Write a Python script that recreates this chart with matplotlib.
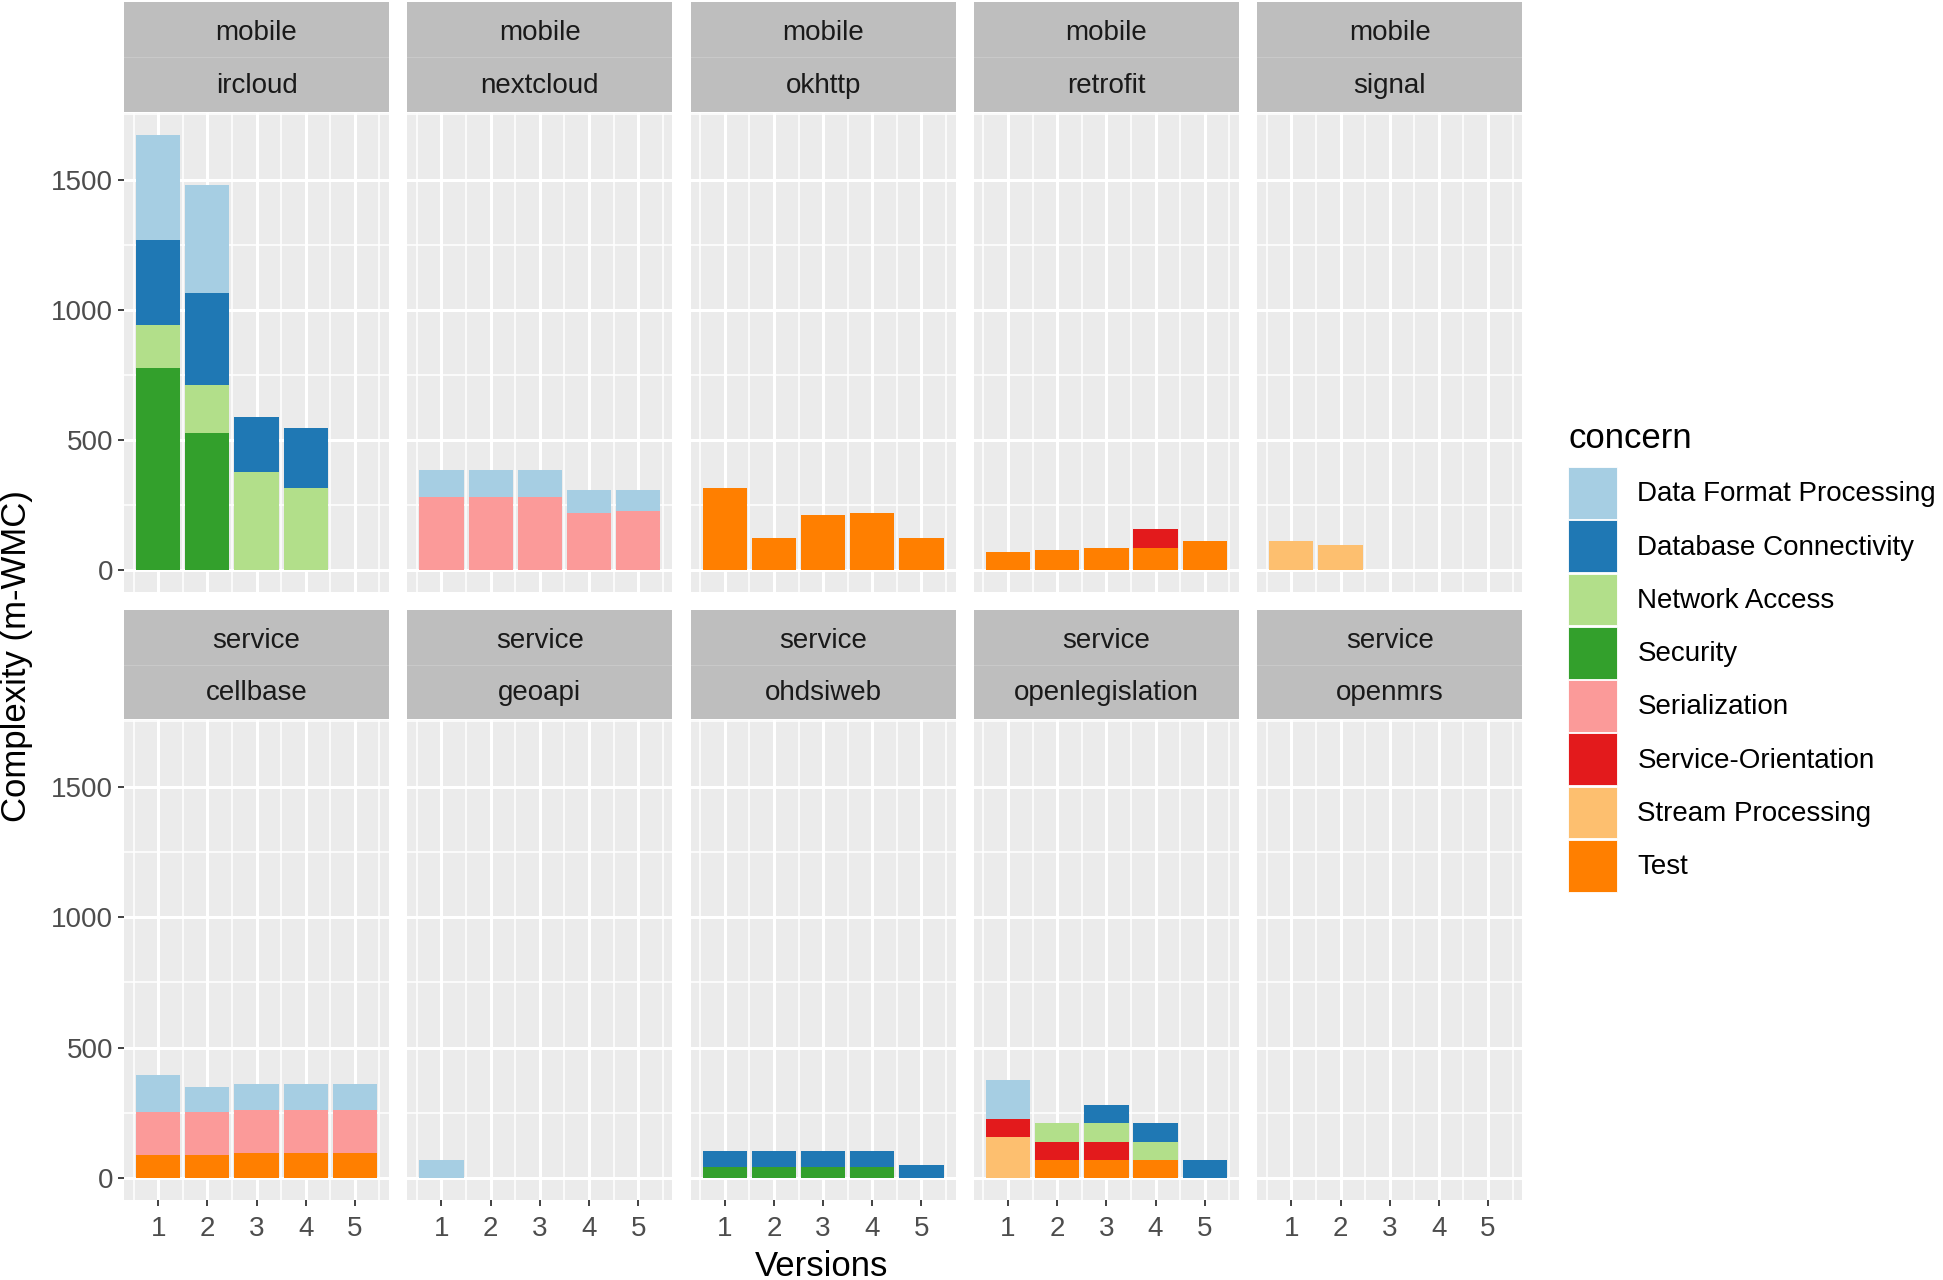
import matplotlib
matplotlib.use("Agg")
import matplotlib.pyplot as plt
from matplotlib.patches import Patch

plt.rcParams['font.family'] = ['Liberation Sans', 'DejaVu Sans']

# Dane
domains = ["mobile"] * 5 + ["service"] * 5
projects = ["ircloud", "nextcloud", "okhttp", "retrofit", "signal",
            "cellbase", "geoapi", "ohdsiweb", "openlegislation", "openmrs"]
versions = [1, 2, 3, 4, 5]

concerns = ["Data Format Processing", "Database Connectivity", "Network Access",
            "Security", "Serialization", "Service-Orientation",
            "Stream Processing", "Test"]
colors = ["#A6CEE3", "#1F78B4", "#B2DF8A", "#33A02C",
          "#FB9A99", "#E31A1C", "#FDBF6F", "#FF7F00"]

Z = [0, 0, 0, 0, 0]
# one row per project, one value per version
data_format = [[405, 413, 0, 0, 0], [104, 104, 104, 89, 80], Z, Z, Z,
               [140, 97, 97, 97, 97], [69, 0, 0, 0, 0], Z, [150, 0, 0, 0, 0], Z]
database = [[326, 354, 211, 229, 0], Z, Z, Z, Z,
            Z, Z, [63, 63, 63, 63, 52], [0, 0, 71, 71, 69], Z]
network = [[166, 183, 378, 316, 0], Z, Z, Z, Z,
           Z, Z, Z, [0, 71, 71, 70, 0], Z]
security = [[775, 528, 0, 0, 0], Z, Z, Z, Z,
            Z, Z, [42, 42, 42, 42, 0], Z, Z]
serialization = [Z, [280, 280, 280, 218, 227], Z, Z, Z,
                 [167, 167, 167, 167, 167], Z, Z, Z, Z]
service_orient = [Z, Z, Z, [0, 0, 0, 70, 0], Z,
                  Z, Z, Z, [70, 70, 70, 0, 0], Z]
stream = [Z, Z, Z, Z, [112, 96, 0, 0, 0],
          Z, Z, Z, [158, 0, 0, 0, 0], Z]
test = [Z, Z, [314, 124, 211, 218, 124], [71, 78, 87, 87, 114], Z,
        [87, 87, 96, 96, 96], Z, Z, [0, 69, 69, 69, 0], Z]

series = [data_format, database, network, security,
          serialization, service_orient, stream, test]

W, H = 1943, 1280
fig = plt.figure(figsize=(W / 100, H / 100), dpi=100)


def box(x0, y0, x1, y1):
    return [x0 / W, 1 - y1 / H, (x1 - x0) / W, (y1 - y0) / H]


rows = [(2, 112, 113, 592), (610, 719, 720, 1200)]
pitch = 283.3
pw = 265

for i, proj in enumerate(projects):
    r, c = divmod(i, 5)
    s0, s1, p0, p1 = rows[r]
    x0 = 124 + c * pitch

    # strip
    sax = fig.add_axes(box(x0, s0, x0 + pw, s1))
    sax.set_facecolor("#BEBEBE")
    sax.set_xticks([])
    sax.set_yticks([])
    for sp in sax.spines.values():
        sp.set_visible(False)
    sax.set_xlim(0, 1)
    sax.set_ylim(0, 1)
    sax.axhline(0.5, color="#C9C9C9", lw=0.8)
    sax.text(0.5, 0.72, domains[i], ha="center", va="center", fontsize=20, color="#1A1A1A")
    sax.text(0.5, 0.235, proj, ha="center", va="center", fontsize=20, color="#1A1A1A")

    # panel
    ax = fig.add_axes(box(x0, p0, x0 + pw, p1))
    ax.set_facecolor("#EBEBEB")
    ax.set_axisbelow(True)
    for sp in ax.spines.values():
        sp.set_visible(False)
    ax.set_xticks(versions)
    ax.set_xticks([0.5, 1.5, 2.5, 3.5, 4.5, 5.5], minor=True)
    ax.set_yticks([0, 500, 1000, 1500])
    ax.set_yticks([250, 750, 1250, 1750], minor=True)
    ax.grid(which="major", color="white", lw=2.2)
    ax.grid(which="minor", color="white", lw=1.1)
    ax.tick_params(which="minor", length=0)
    ax.tick_params(which="major", length=4, width=1.3, color="#333333",
                   labelsize=20, labelcolor="#4D4D4D", pad=4)
    ax.tick_params(axis="x", pad=7.5)

    bottom = [0, 0, 0, 0, 0]
    for k in range(len(concerns) - 1, -1, -1):
        vals = series[k][i]
        ax.bar(versions, vals, bottom=bottom, width=0.9, color=colors[k], lw=0)
        bottom = [b + v for b, v in zip(bottom, vals)]

    ax.set_xlim(0.305, 5.695)
    ax.set_ylim(-83.6, 1755.6)
    if r == 0:
        ax.tick_params(axis="x", length=0, labelbottom=False)
    if c > 0:
        ax.tick_params(axis="y", length=0, labelleft=False)

fig.text(17 / W, 1 - 656 / H, "Complexity (m-WMC)", rotation=90,
         ha="center", va="center", fontsize=25)
fig.text(822 / W, 1 - 1266.5 / H, "Versions", ha="center", va="center", fontsize=25)

handles = [Patch(facecolor=col, edgecolor="white", lw=0.6) for col in colors]
leg = fig.legend(handles, concerns, title="concern", loc="upper left",
                 bbox_to_anchor=(1568 / W, 1 - 422.5 / H), frameon=False,
                 fontsize=20, title_fontsize=25, handlelength=1.75,
                 handleheight=2.48, labelspacing=0.06, handletextpad=0.75,
                 borderpad=0, borderaxespad=0, alignment="left")
leg._legend_box.sep = 8.4

fig.savefig("out.png", dpi=100)
